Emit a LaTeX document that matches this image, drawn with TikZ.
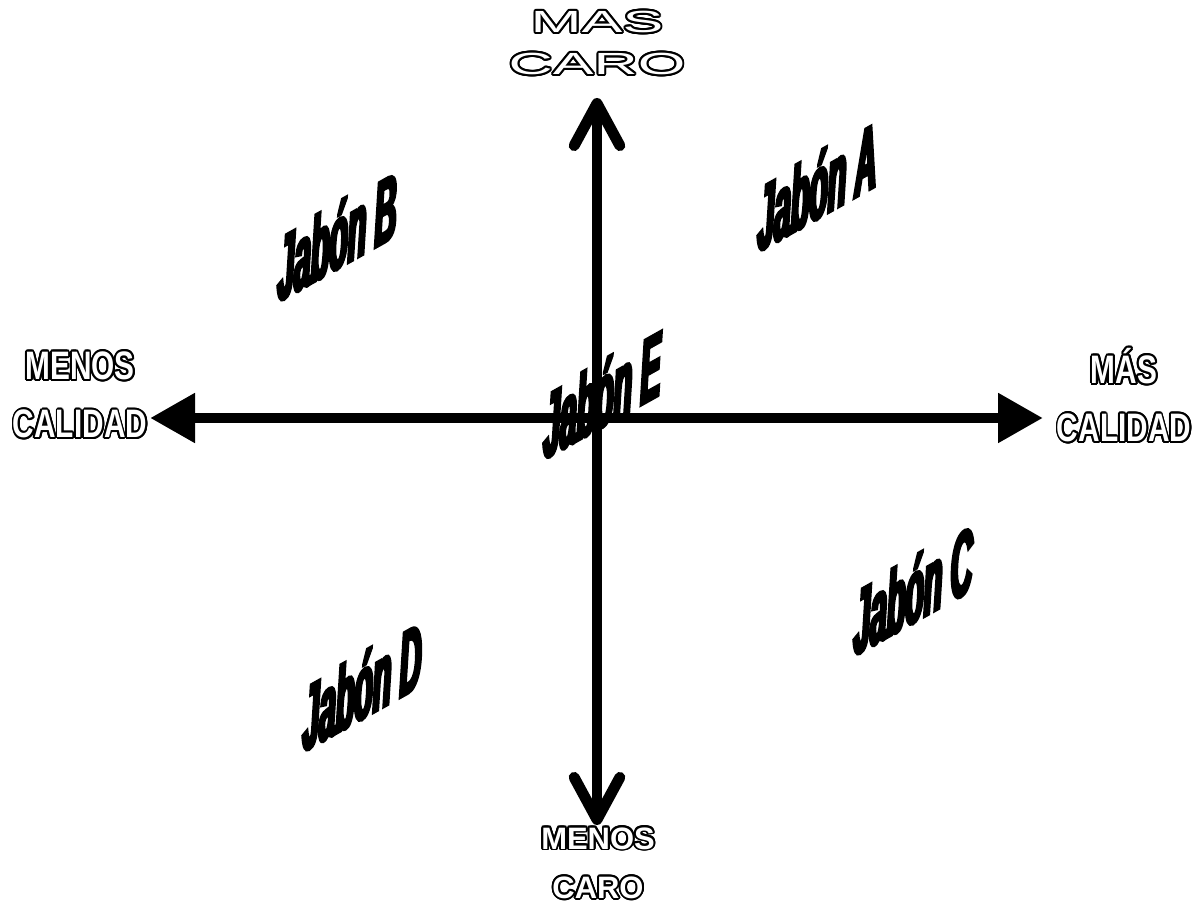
\documentclass[tikz,border=0pt]{standalone}
\usepackage{fontspec}
\setmainfont{Liberation Sans}
\newfontfamily\widefont[FakeStretch=2.0]{Liberation Sans}
\newfontfamily\narrowfont[FakeStretch=0.75]{Liberation Sans}
\newfontfamily\jabonfont[FakeStretch=0.33, FakeBold=3.4]{Liberation Sans}
\usetikzlibrary{arrows.meta}

% white letters with a thin black rim
\newsavebox\hollowblack
\newsavebox\hollowwhite
\newcommand\hollowtext[1]{\leavevmode{\sbox\hollowblack{#1}\sbox\hollowwhite{\color{white}#1}%
  \foreach \ang in {0,20,...,340}{%
    \pgfmathsetlengthmacro\dx{0.55pt*cos(\ang)}%
    \pgfmathsetlengthmacro\dy{0.55pt*sin(\ang)}%
    \rlap{\kern\dx\raise\dy\hbox{\usebox\hollowblack}}}%
  \usebox\hollowwhite}}

\begin{document}
\begin{tikzpicture}[
    x=0.01cm, y=-0.01cm,
    axis/.style={line width=3.1pt},
    hollowlbl/.style={align=center, inner sep=0pt},
    jabon/.style={font=\jabonfont\bfseries\itshape\fontsize{26}{30}\selectfont,
                  inner sep=0pt, yslant=0.56}
]
\useasboundingbox (0,0) rectangle (1198,904);

% axes
\coordinate (qleft)  at (150,418);
\coordinate (qright) at (1043,418);
\coordinate (qtop)   at (597,98);
\coordinate (qbot)   at (597,825);
\draw[axis, {Triangle[length=12.8pt, width=13.4pt]}-{Triangle[length=12.8pt, width=13.4pt]}]
    (qleft) -- (qright);
\draw[axis, {Straight Barb[length=12pt, width=13pt, round]}-{Straight Barb[length=12pt, width=13pt, round]}]
    (qbot) -- (qtop);

% axis labels
\node[hollowlbl, font=\widefont\fontsize{8.7}{11.9}\selectfont] (mascaro) at (597,43)
    {\hollowtext{MAS}\\\hollowtext{CARO}};
\node[hollowlbl, font=\bfseries\fontsize{8.8}{14}\selectfont] (menoscaro) at (598,863)
    {\hollowtext{MENOS}\\\hollowtext{CARO}};
\node[hollowlbl, font=\narrowfont\bfseries\fontsize{11.3}{16.5}\selectfont] (menoscal) at (80,395)
    {\hollowtext{MENOS}\\\hollowtext{CALIDAD}};
\node[hollowlbl, font=\narrowfont\bfseries\fontsize{11.3}{16.5}\selectfont] (mascal) at (1124,395)
    {\hollowtext{MÁS}\\\hollowtext{CALIDAD}};

% soaps
\node[jabon] (jabA) at (817,186) {Jabón A};
\node[jabon] (jabB) at (337,236) {Jabón B};
\node[jabon] (jabC) at (913,590) {Jabón C};
\node[jabon] (jabD) at (362,686) {Jabón D};
\node[jabon] (jabE) at (602,394) {Jabón E};
\end{tikzpicture}
\end{document}
